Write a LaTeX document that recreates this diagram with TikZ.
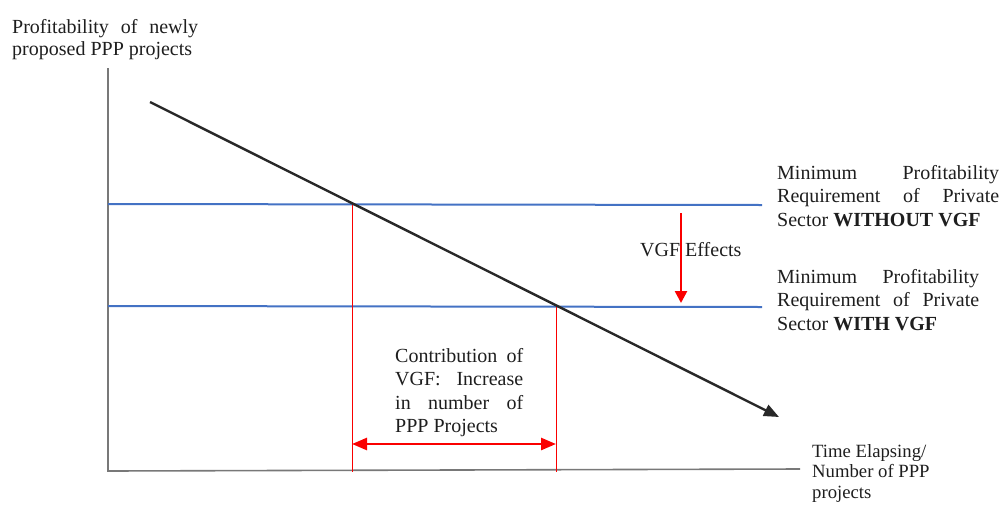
\documentclass[tikz,border=0pt]{standalone}
\usepackage{fontspec}
\setmainfont{Liberation Serif}
\usetikzlibrary{arrows.meta}

\definecolor{axisgray}{RGB}{120,120,120}
\definecolor{trendgray}{RGB}{40,40,40}
\definecolor{reqblue}{RGB}{68,114,196}
\definecolor{vgfred}{RGB}{250,0,0}
\definecolor{txt}{RGB}{30,30,30}

% one line of a block, stretched to the block width
\newcommand{\fullline}[1]{\makebox[\linewidth][s]{#1}}

\begin{document}
\begin{tikzpicture}[x=1pt,y=-1pt,
  axis/.style={draw=axisgray,line width=1.6pt},
  trend/.style={draw=trendgray,line width=2.4pt,-{Triangle[length=15pt,width=12pt]}},
  req/.style={draw=reqblue,line width=2pt},
  guide/.style={draw=vgfred,line width=1pt},
  effect/.style={draw=vgfred,fill=vgfred,line width=2.6pt},
  label/.style={inner sep=0pt,anchor=base west,text=txt,font=\fontsize{20}{23.5}\selectfont}]
\useasboundingbox (0,0) rectangle (1003,509);

% axes
\coordinate (ytop) at (108,68);
\coordinate (origin) at (108,471);
\coordinate (xend) at (800,469);
\draw[axis] (ytop) -- (origin) -- (xend);

% minimum profitability requirements
\coordinate (hiL) at (108,204);
\coordinate (hiR) at (762,205);
\coordinate (loL) at (108,306);
\coordinate (loR) at (762,307);
\draw[req] (hiL) -- (hiR);
\draw[req] (loL) -- (loR);

% profitability trend and its crossings with the requirements
\coordinate (tstart) at (150,102);
\coordinate (tend) at (779,417);
\coordinate (crossA) at (352,204);
\coordinate (crossB) at (556,306);
\coordinate (footA) at (352,472);
\coordinate (footB) at (556,472);
\draw[guide] (crossA) -- (footA);
\draw[guide] (crossB) -- (footB);
\draw[trend] (tstart) -- (tend);

% texts
\node[label] (ylab) at (12,33) {\parbox[t]{186pt}{\fontsize{20}{22}\selectfont
  \fullline{Profitability of newly}\\proposed PPP projects}};
\node[label] (without) at (777,179) {\parbox[t]{222pt}{\fontsize{20}{23.5}\selectfont
  \fullline{Minimum Profitability}\\\fullline{Requirement of Private}\\Sector \textbf{WITHOUT VGF}}};
\node[label] (with) at (777,283) {\parbox[t]{202pt}{\fontsize{20}{23.5}\selectfont
  \fullline{Minimum Profitability}\\\fullline{Requirement of Private}\\Sector \textbf{WITH VGF}}};
\node[label] (contrib) at (395,362) {\parbox[t]{128pt}{\fontsize{20}{23.5}\selectfont
  \fullline{Contribution of}\\\fullline{VGF: Increase}\\\fullline{in number of}\\PPP Projects}};
\node[label] (xlab) at (812,457) {\parbox[t]{180pt}{\fontsize{18.7}{20.5}\selectfont
  Time Elapsing/\\Number of PPP\\projects}};
\node[label] (effects) at (640,256) {VGF Effects};

% VGF effects
\coordinate (effTop) at (681,213);
\coordinate (effBot) at (681,303);
\draw[effect,-{Triangle[length=12pt,width=12pt]}] (effTop) -- (effBot);
\coordinate (spanL) at (352,444);
\coordinate (spanR) at (556,444);
\draw[effect,{Triangle[length=15pt,width=12pt]}-{Triangle[length=15pt,width=12pt]}] (spanL) -- (spanR);
\end{tikzpicture}
\end{document}
